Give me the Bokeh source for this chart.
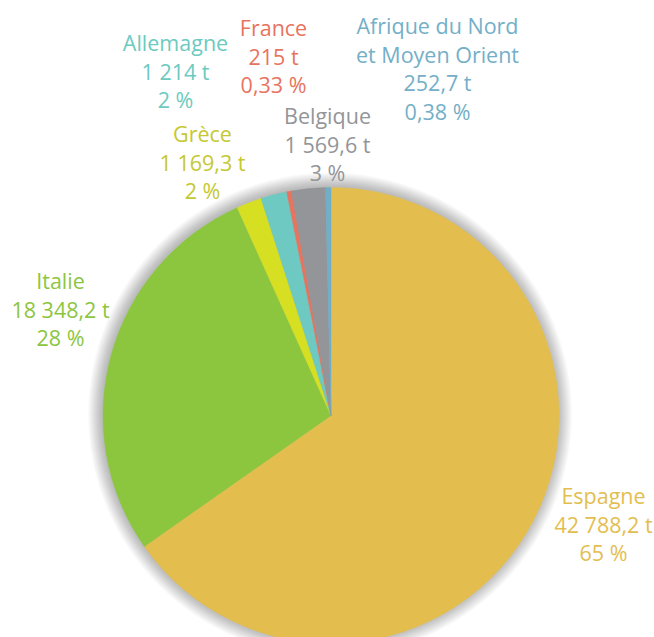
import numpy as np
from bokeh.plotting import figure
from bokeh.models import Range1d, ColumnDataSource
from bokeh.core.properties import value
from bokeh.embed import file_html
from bokeh.resources import INLINE

# ---- data ----
countries = ["Espagne", "Italie", "Grèce", "Allemagne", "France", "Belgique",
             "Afrique du Nord\net Moyen Orient"]
tonnes = [42788.2, 18348.2, 1169.3, 1214.0, 215.0, 1569.6, 252.7]
tonne_labels = ["42 788,2 t", "18 348,2 t", "1 169,3 t", "1 214 t", "215 t",
                "1 569,6 t", "252,7 t"]
percent_labels = ["65 %", "28 %", "2 %", "2 %", "0,33 %", "3 %", "0,38 %"]

# ---- styles / layout ----
slice_colors = ["#E3BE4F", "#8CC63F", "#D7DF23", "#6DC9C1", "#E8735F", "#939598", "#72AEC6"]
text_colors = ["#E3BE4F", "#8CC63F", "#C5C830", "#6CCAC0", "#E8735E", "#939598", "#74AFC7"]
# label anchor (pixel coords in picture: centre x, first-line centre y)
label_pos = [(603, 495), (60, 280), (202, 133), (175, 42), (273, 27), (327, 115), (437, 25)]
line_step = 28.5
PAGE_H = 637
cx_px, cy_px, R = 330.5, 415, 228
FONT = "Open Sans"
FONT_SIZE = "21.5px"

W, H = 654, 637
p = figure(width=W, height=H, output_backend="svg", toolbar_location=None,
           x_range=Range1d(0, W), y_range=Range1d(PAGE_H - H, PAGE_H),
           min_border=0)
p.axis.visible = False
p.grid.visible = False
p.outline_line_color = None
p.background_fill_color = "white"
p.border_fill_color = "white"

cx, cy = cx_px, PAGE_H - cy_px

# soft shadow
for k in range(1, 15):
    p.circle(x=[cx - 1], y=[cy + 1], radius=R + k, fill_color="black",
             fill_alpha=0.018, line_color=None)

# wedges, clockwise from 12 o'clock
vals = np.array(tonnes)
frac = vals / vals.sum()
cum = np.concatenate([[0], np.cumsum(frac)])
theta0 = cum[:-1] * 2 * np.pi
theta1 = cum[1:] * 2 * np.pi
src = ColumnDataSource(dict(
    start=np.pi / 2 - theta1,
    end=np.pi / 2 - theta0,
    color=slice_colors,
    name=countries,
))
p.wedge(x=cx, y=cy, radius=R, start_angle="start", end_angle="end",
        fill_color="color", line_color="color", line_width=0.5, source=src)

# labels
xs, ys, txt, cols = [], [], [], []
for i, name in enumerate(countries):
    lines = name.split("\n") + [tonne_labels[i], percent_labels[i]]
    lx, ly = label_pos[i]
    for j, line in enumerate(lines):
        xs.append(lx)
        ys.append(PAGE_H - (ly + j * line_step))
        txt.append(line)
        cols.append(text_colors[i])
p.text(x=xs, y=ys, text=txt, text_color=cols, text_align="center",
       text_baseline="middle", text_font=value(FONT), text_font_size=FONT_SIZE)

open("out.html", "w").write(file_html(p, INLINE))
